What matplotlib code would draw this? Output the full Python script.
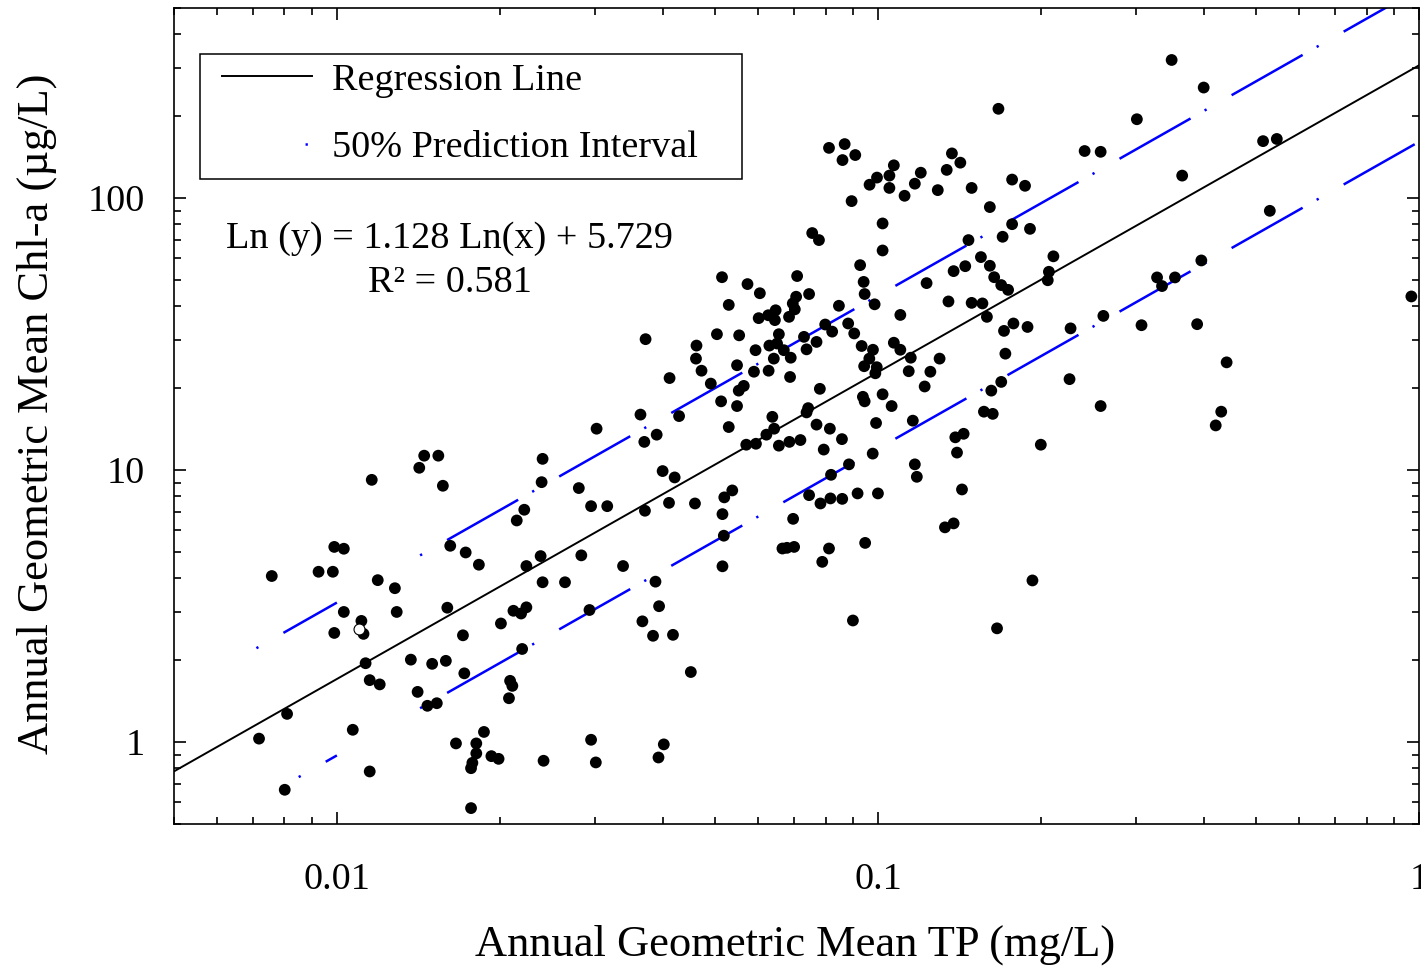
import numpy as np
import matplotlib
matplotlib.use("Agg")
import matplotlib.pyplot as plt
from matplotlib.ticker import FuncFormatter, LogLocator, NullFormatter
from matplotlib.lines import Line2D
from matplotlib.patches import Rectangle

# ---------------- data ----------------
tp = [0.0145, 0.0154, 0.0142, 0.0116, 0.0157, 0.00989, 0.0103, 0.0162, 0.0173,
      0.00758, 0.00925, 0.00983, 0.0183, 0.0119, 0.0128, 0.0103, 0.0129, 0.0160, 0.0111,
      0.00989, 0.0112, 0.0171, 0.0113, 0.0137, 0.0150, 0.0159, 0.0172, 0.0115, 0.0120,
      0.0141, 0.0147, 0.0153, 0.00809, 0.00718, 0.0107, 0.0166, 0.0181, 0.0187, 0.0181,
      0.0193, 0.0178, 0.0177, 0.0115, 0.00801, 0.0177,
      0.0574, 0.0605, 0.0706, 0.0746, 0.0530, 0.0696, 0.0702, 0.0647, 0.0627, 0.0602,
      0.0645, 0.0685, 0.0372, 0.0504, 0.0554, 0.0656, 0.0730, 0.0462, 0.0630, 0.0651,
      0.0594, 0.0738, 0.0670, 0.0461, 0.0642, 0.0690, 0.0549, 0.0472, 0.0590, 0.0628,
      0.0412, 0.0688, 0.0491, 0.0565, 0.0553, 0.0513, 0.0549, 0.0364, 0.0429, 0.0638,
      0.0743, 0.0738, 0.0530, 0.0302, 0.0390, 0.0370, 0.0643, 0.0622, 0.0571, 0.0595,
      0.0656, 0.0686, 0.0719, 0.0240, 0.0239, 0.0280, 0.0222, 0.0215, 0.0295, 0.0316,
      0.0400, 0.0421, 0.0371, 0.0411, 0.0459, 0.0538, 0.0520, 0.0516, 0.0697, 0.0746,
      0.0519, 0.0666, 0.0679, 0.0700, 0.0238, 0.0283,
      0.0224, 0.0338, 0.0516, 0.0240, 0.0264, 0.0388, 0.0212, 0.0224, 0.0219, 0.0293,
      0.0394, 0.0201, 0.0367, 0.0384, 0.0418, 0.0220, 0.0451, 0.0209, 0.0211, 0.0208,
      0.0295, 0.0402, 0.0199, 0.0241, 0.0301, 0.0393,
      0.0515, 0.0709, 0.0756,
      0.167, 0.0812, 0.0868, 0.0860, 0.0908, 0.107, 0.0996, 0.105, 0.0965, 0.105,
      0.112, 0.117, 0.120, 0.129, 0.134, 0.137, 0.142, 0.149, 0.177, 0.187,
      0.0894, 0.161, 0.102, 0.177, 0.191, 0.170, 0.147, 0.0778, 0.102, 0.241,
      0.258, 0.211, 0.155, 0.145, 0.138, 0.161, 0.0927, 0.164, 0.207, 0.206,
      0.0941, 0.123, 0.169, 0.174, 0.0945, 0.0847, 0.0986, 0.110, 0.135, 0.149,
      0.156, 0.159, 0.0799, 0.0881, 0.0823, 0.0904, 0.0770, 0.171, 0.178, 0.189,
      0.227, 0.261, 0.0933, 0.0979, 0.107, 0.110, 0.0964, 0.0943, 0.0995, 0.0989,
      0.115, 0.130, 0.114, 0.125, 0.172, 0.122, 0.0781, 0.0938, 0.0945, 0.102,
      0.106, 0.226, 0.169, 0.162, 0.258, 0.0770, 0.0815, 0.0992, 0.116, 0.157,
      0.163, 0.0858, 0.0794, 0.0978, 0.139, 0.144, 0.140, 0.200, 0.0884, 0.0819,
      0.117, 0.118, 0.0783, 0.0817, 0.0859, 0.0917, 0.100, 0.143, 0.133, 0.138,
      0.0812, 0.0947, 0.0789, 0.193, 0.0899, 0.166,
      0.349, 0.400, 0.301, 0.515, 0.546, 0.365, 0.530, 0.396, 0.328, 0.354,
      0.335, 0.968, 0.307, 0.389, 0.441, 0.431, 0.421]

chla = [11.3, 11.3, 10.2, 9.21, 8.76, 5.22, 5.14, 5.27, 4.98,
        4.08, 4.23, 4.23, 4.49, 3.94, 3.68, 3.01, 3.01, 3.12, 2.79,
        2.52, 2.50, 2.47, 1.95, 2.01, 1.94, 1.99, 1.79, 1.69, 1.63,
        1.53, 1.36, 1.39, 1.27, 1.03, 1.11, 0.989, 0.989, 1.09, 0.909,
        0.888, 0.839, 0.802, 0.780, 0.668, 0.572,
        48.3, 44.7, 43.4, 44.4, 40.5, 41.0, 39.0, 38.7, 37.1, 36.2,
        35.6, 36.6, 30.3, 31.6, 31.3, 31.6, 30.9, 28.7, 28.7, 29.2,
        27.6, 27.8, 27.6, 25.7, 25.7, 25.9, 24.3, 23.2, 23.0, 23.2,
        21.8, 22.0, 20.8, 20.4, 19.6, 17.9, 17.2, 16.0, 15.8, 15.7,
        16.9, 16.3, 14.4, 14.2, 13.5, 12.7, 14.2, 13.5, 12.4, 12.5,
        12.3, 12.7, 12.9, 11.0, 9.03, 8.59, 7.15, 6.53, 7.37, 7.37,
        9.92, 9.40, 7.09, 7.58, 7.54, 8.42, 7.94, 6.89, 6.62, 8.09,
        5.74, 5.15, 5.18, 5.22, 4.83, 4.86,
        4.44, 4.44, 4.43, 3.87, 3.87, 3.89, 3.04, 3.13, 2.97, 3.06,
        3.16, 2.73, 2.78, 2.46, 2.48, 2.20, 1.81, 1.68, 1.61, 1.45,
        1.02, 0.981, 0.868, 0.854, 0.842, 0.878,
        51.2, 51.7, 74.4,
        213, 153, 158, 138, 144, 132, 119, 121, 112, 109,
        102, 113, 124, 107, 127, 146, 135, 109, 117, 111,
        97.5, 92.7, 80.7, 80.2, 77.1, 72.1, 70.1, 70.1, 64.2, 149,
        148, 61.1, 60.7, 56.2, 53.9, 56.4, 56.7, 51.2, 53.6, 49.9,
        49.2, 48.7, 47.9, 46.0, 44.4, 40.2, 40.7, 37.2, 41.7, 41.2,
        41.0, 36.6, 34.3, 34.6, 32.3, 31.8, 29.6, 32.5, 34.6, 33.6,
        33.2, 36.9, 28.6, 27.7, 29.4, 27.7, 25.7, 24.1, 23.9, 22.7,
        25.9, 25.7, 23.1, 23.0, 26.8, 20.3, 19.9, 18.6, 17.9, 19.0,
        17.2, 21.6, 21.1, 19.6, 17.2, 14.7, 14.2, 14.9, 15.2, 16.4,
        16.1, 13.0, 11.9, 11.5, 13.2, 13.6, 11.6, 12.4, 10.5, 9.61,
        10.5, 9.45, 7.54, 7.87, 7.84, 8.21, 8.21, 8.49, 6.16, 6.37,
        5.15, 5.40, 4.60, 3.93, 2.80, 2.62,
        322, 255, 195, 162, 165, 121, 89.8, 59.0, 51.1, 51.1,
        47.5, 43.5, 34.1, 34.4, 24.9, 16.4, 14.6]

tp_open = [0.0110]
chla_open = [2.60]

slope = 1.128
intercept = 5.729
r_squared = 0.581
pi_half_width_ln = 0.647          # half-width of the 50 % prediction interval (ln units)

x_limits = (0.005, 1.0)
y_limits = (0.5, 500)
x_major = [0.01, 0.1, 1]
y_major = [1, 10, 100]

# extents of the drawn pieces of the prediction-interval lines (TP, mg/L)
upper_pieces = [(0.0071, 0.01), (0.01425, 1.0)]
lower_pieces = [(0.0085, 0.01), (0.01425, 1.0)]

# ---------------- style ----------------
plt.rcParams['font.family'] = ['Liberation Serif', 'DejaVu Serif']
plt.rcParams['lines.scale_dashes'] = False

FS = 27.5
LFS = 32
BLUE = '#0000FF'
pi_dash = (0, (1.66, 20.7, 58.8, 11.6))

fig = plt.figure(figsize=(14.21, 9.66), dpi=100)
fig.patch.set_facecolor('white')
ax = fig.add_axes([174 / 1421, 1 - 824 / 966, (1419 - 174) / 1421, (824 - 8) / 966])
ax.set_xscale('log')
ax.set_yscale('log')
ax.set_xlim(*x_limits)
ax.set_ylim(*y_limits)

# regression line
xs = np.logspace(np.log10(x_limits[0]), np.log10(x_limits[1]), 300)
ax.plot(xs, np.exp(intercept + slope * np.log(xs)), color='black', lw=1.4, zorder=2)

# prediction interval lines
for pieces, sign in ((upper_pieces, 1), (lower_pieces, -1)):
    for a, b in pieces:
        xp = np.logspace(np.log10(a), np.log10(b), 200)
        yp = np.exp(intercept + slope * np.log(xp) + sign * pi_half_width_ln)
        ax.plot(xp, yp, color=BLUE, lw=1.8, linestyle=pi_dash, zorder=2)

# points
ax.scatter(tp, chla, s=72, c='black', edgecolors='none', zorder=3)
ax.scatter(tp_open, chla_open, s=62, facecolors='white', edgecolors='black',
           linewidths=0.8, zorder=4)

# ticks
fmt = FuncFormatter(lambda v, p: f'{v:g}')
for axis, majors in ((ax.xaxis, x_major), (ax.yaxis, y_major)):
    axis.set_major_locator(matplotlib.ticker.FixedLocator(majors))
    axis.set_minor_locator(LogLocator(base=10, subs=np.arange(2, 10), numticks=50))
    axis.set_major_formatter(fmt)
    axis.set_minor_formatter(NullFormatter())
ax.tick_params(which='both', direction='in', top=True, right=True, width=1.2,
               colors='black', labelsize=FS)
ax.tick_params(which='major', length=8.6)
ax.tick_params(which='minor', length=5)
ax.tick_params(axis='x', which='major', pad=28)
ax.tick_params(axis='y', which='major', pad=21)
for s in ax.spines.values():
    s.set_linewidth(1.2)

ax.set_xlabel('Annual Geometric Mean TP (mg/L)', fontsize=LFS)
ax.set_ylabel('Annual Geometric Mean Chl-a (µg/L)', fontsize=LFS)
ax.xaxis.set_label_coords(0.4988, -0.123)
ax.yaxis.set_label_coords(-0.094, 0.503)

# equation
ax.text(0.2213, 0.7055, f'Ln (y) = {slope:.3f} Ln(x) + {intercept:.3f}',
        ha='center', va='baseline', fontsize=FS, transform=ax.transAxes)
ax.text(0.2213, 0.6523, f'R² = {r_squared:.3f}',
        ha='center', va='baseline', fontsize=FS, transform=ax.transAxes)

# legend
handles = [Line2D([], [], color='black', lw=1.4),
           Line2D([], [], color=BLUE, lw=1.8, linestyle=(11.86, (1.66, 70)))]
labels = ['Regression Line', '50% Prediction Interval']
ax.legend(handles, labels, loc='upper left', bbox_to_anchor=(0.03855, 0.9326),
          frameon=False, borderpad=0, borderaxespad=0, fontsize=FS,
          handlelength=2.35, handletextpad=0.52, labelspacing=0.86)
ax.add_patch(Rectangle((0.02088, 0.79044), 0.45622 - 0.02088, 0.94363 - 0.79044,
                       transform=ax.transAxes, fill=False, edgecolor='black',
                       lw=1.1, zorder=5))

fig.savefig('out.png', dpi=100, facecolor='white')
